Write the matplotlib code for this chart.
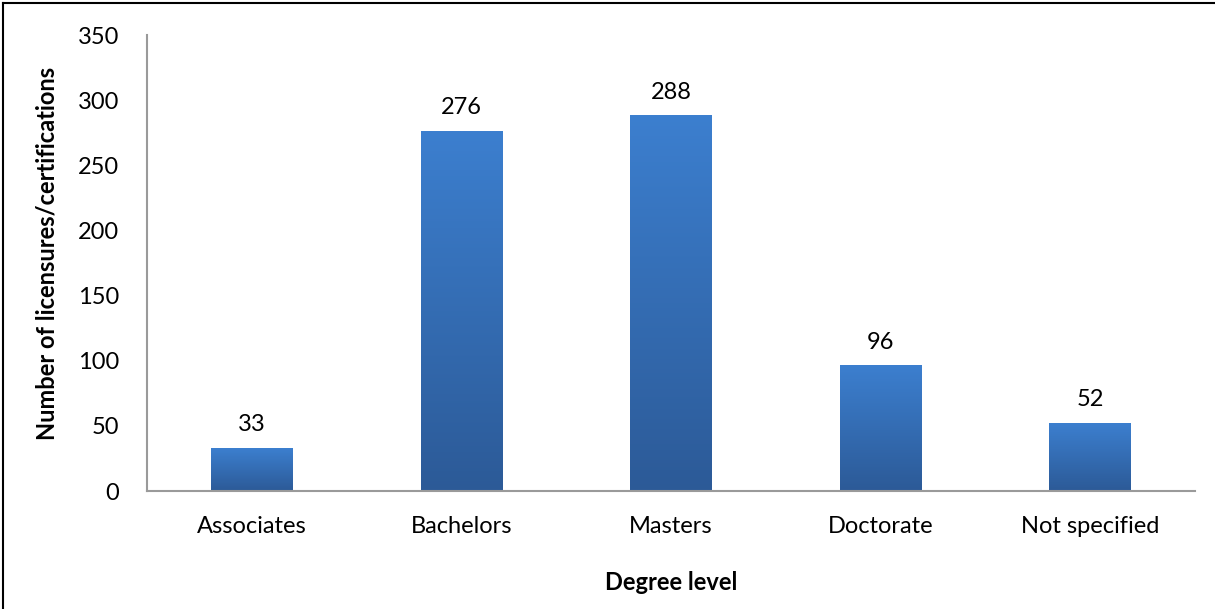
import matplotlib.pyplot as plt
import numpy as np
from matplotlib.lines import Line2D

categories = ['Associates', 'Bachelors', 'Masters', 'Doctorate', 'Not specified']
counts = [33, 276, 288, 96, 52]

plt.rcParams['font.family'] = ['Lato', 'DejaVu Sans']

fig = plt.figure(figsize=(12.15, 6.09), dpi=100)
ax = fig.add_axes([147 / 1215, 1 - 491 / 609, 1048 / 1215, 456 / 609])

x = np.arange(len(categories))
bars = ax.bar(x, counts, width=0.39, color='none', zorder=2)

# vertical gradient fill for each bar
grad = np.linspace(0, 1, 256).reshape(-1, 1)
cmap = plt.matplotlib.colors.LinearSegmentedColormap.from_list('bar', ['#2c5a97', '#3c7fcf'])
for bar in bars:
    x0, w, h = bar.get_x(), bar.get_width(), bar.get_height()
    ax.imshow(grad, extent=[x0, x0 + w, 0, h], origin='lower', cmap=cmap,
              aspect='auto', zorder=1)
    ax.text(x0 + w / 2, h + 10, str(int(h)), ha='center', va='bottom', fontsize=17)

ax.set_xlim(-0.5, len(categories) - 0.5)
ax.set_ylim(0, 350)
ax.set_yticks(range(0, 351, 50))
ax.set_xticks(x)
ax.set_xticklabels(categories)
ax.tick_params(axis='both', length=0, labelsize=17)
ax.tick_params(axis='x', pad=18)
ax.tick_params(axis='y', pad=20)

for side in ['top', 'right']:
    ax.spines[side].set_visible(False)
for side in ['left', 'bottom']:
    ax.spines[side].set_color('#9a9a9a')
    ax.spines[side].set_linewidth(1.5)

ax.set_ylabel('Number of licensures/certifications', fontsize=17, fontweight='bold')
ax.yaxis.set_label_coords(-88 / 1048, 0.5 + 10 / 456)
ax.set_xlabel('Degree level', fontsize=17, fontweight='bold')
ax.xaxis.set_label_coords(0.5, -80 / 456)

# frame lines at top and left of the picture
fig.add_artist(Line2D([3 / 1215, 3 / 1215], [0, 1 - 3 / 609], color='black', lw=1.5))
fig.add_artist(Line2D([3 / 1215, 1], [1 - 3 / 609, 1 - 3 / 609], color='black', lw=1.5))

fig.savefig('out.png', dpi=100)
